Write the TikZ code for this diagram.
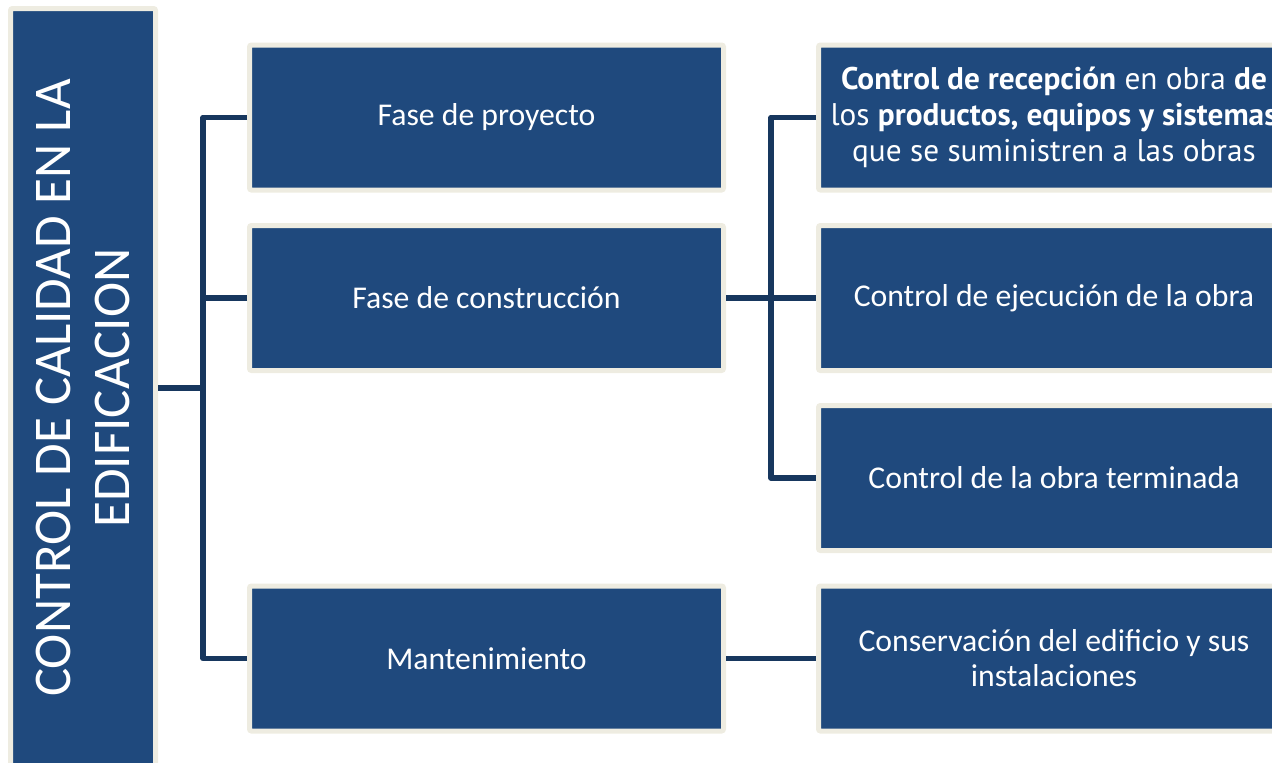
\documentclass[tikz,border=0pt]{standalone}
\usepackage{fontspec}
\setmainfont{Carlito}
\newfontfamily\myr{PT Sans}
\definecolor{boxblue}{HTML}{1F497D}
\definecolor{cream}{HTML}{EEECE1}
\definecolor{linkblue}{HTML}{17375E}
\begin{document}
\begin{tikzpicture}[x=1pt,y=-1pt,
  box/.style={fill=boxblue, draw=cream, line width=5pt, rounded corners=2pt,
    text=white, inner sep=0pt, align=center,
    font=\fontsize{31.7}{35}\selectfont},
  midbox/.style={box, minimum width=474pt, minimum height=145pt},
  rightbox/.style={box, minimum width=471pt, minimum height=145pt},
  link/.style={draw=linkblue, line width=5.5pt, line join=round}]
\useasboundingbox (0,0) rectangle (1272,763);
\clip (0,0) rectangle (1272,763);
% root
\node[box, rotate=90, minimum width=759pt, minimum height=145pt,
  font=\fontsize{53}{59}\selectfont] (root) at (83,388)
  {CONTROL DE CALIDAD EN LA\\EDIFICACION};
% middle column
\node[midbox] (p1) at (486.5,117.5) {Fase de proyecto};
\node[midbox] (p2) at (486.5,298) {Fase de construcción};
\node[midbox] (p3) at (486.5,658.5) {Mantenimiento};
% right column
\node[rightbox, font=\myr\fontsize{31.3}{36}\selectfont] (r1) at (1054,117.5)
  {\textbf{Control de recepción} en obra \textbf{de}\\los \textbf{productos, equipos y sistemas}\\que se suministren a las obras};
\node[rightbox] (r2) at (1054,298) {Control de ejecución de la obra};
\node[rightbox] (r3) at (1054,478) {Control de la obra terminada};
\node[rightbox] (r4) at (1054,658.5) {Conservación del edificio y sus\\instalaciones};
% connectors
\coordinate (j1) at (203,388);
\coordinate (j2) at (771,298);
\draw[link] (root.south) -- (j1);
\draw[link] (p1.west) -| (j1) |- (p3.west);
\draw[link] (p2.west) -- (p2.west -| j1);
\draw[link] (p2.east) -- (r2.west);
\draw[link] (r1.west) -| (j2) |- (r3.west);
\draw[link] (p3.east) -- (r4.west);
\end{tikzpicture}
\end{document}
